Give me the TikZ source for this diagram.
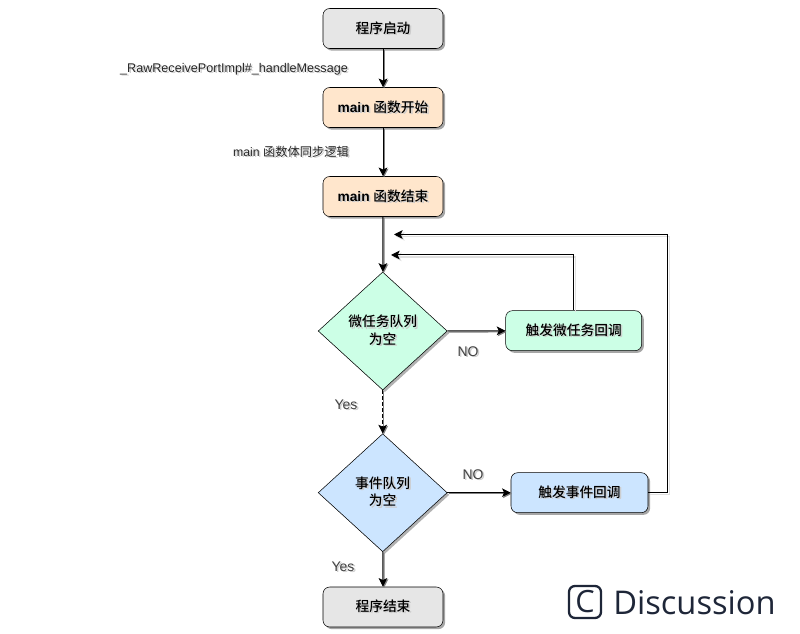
\documentclass[tikz,border=0pt]{standalone}
\usepackage{fontspec}
\setmainfont{Liberation Sans}
\newfontfamily\cjk{Noto Sans CJK SC}[BoldFont={Noto Sans CJK SC Medium}]
\newfontfamily\markfont{Open Sans}
\usepackage{tikz}
\usetikzlibrary{shapes,arrows.meta,shadows}
\usepackage{xcolor}
\definecolor{greyfill}{HTML}{E6E6E6}
\definecolor{mainfill}{HTML}{FFE6CC}
\definecolor{microfill}{HTML}{CCFFE6}
\definecolor{eventfill}{HTML}{CCE5FF}
\definecolor{markink}{HTML}{1E2638}
\newcommand{\softtext}[1]{\makebox[0pt][l]{\raisebox{-1pt}{\hspace{1.2pt}\textcolor{black!20}{#1}}}#1}

\begin{document}
\begin{tikzpicture}[x=0.75pt, y=-0.75pt,
    cell/.style={rectangle, draw, rounded corners=5pt, minimum width=90pt, minimum height=30pt, inner sep=0pt,
        font=\bfseries\fontsize{10.3}{12}\selectfont, drop shadow={shadow xshift=1.6pt, shadow yshift=-1.6pt, opacity=0.35, fill=black}},
    choice/.style={diamond, draw, minimum width=96.75pt, minimum height=88.5pt, inner sep=0pt, align=center,
        font=\bfseries\fontsize{10.3}{13}\selectfont, drop shadow={shadow xshift=1.6pt, shadow yshift=-1.6pt, opacity=0.3, fill=black}},
    arrow/.style={-{Stealth[length=6.5pt, width=6.5pt, inset=1.5pt]}, line width=0.75pt,
        preaction={draw=black!50, line width=0.9pt, transform canvas={shift={(0.8pt,-0.8pt)}}}},
    loopback/.style={-{Stealth[length=6.5pt, width=6.5pt, inset=1.5pt]}, line width=0.75pt,
        preaction={draw=black!12, line width=1pt, transform canvas={shift={(1.4pt,-1.4pt)}}}},
    note/.style={font=\fontsize{9.45}{11}\selectfont, text=black!85},
    branch/.style={font=\fontsize{10.5}{12}\selectfont, text=black!75}
]
\useasboundingbox (0,0) rectangle (800,634);

\node[cell, fill=greyfill] (boot) at (383,28.5) {\softtext{\cjk 程序启动}};
\node[cell, fill=mainfill] (mainstart) at (383,107.5) {\softtext{main {\cjk 函数开始}}};
\node[cell, fill=mainfill] (mainend) at (383,196.5) {\softtext{main {\cjk 函数结束}}};
\node[choice, fill=microfill] (microempty) at (382.7,331) {\softtext{\cjk 微任务队列}\\\softtext{\cjk 为空}};
\node[cell, fill=microfill, minimum width=102pt] (microrun) at (573.7,330.7) {\softtext{\cjk 触发微任务回调}};
\node[choice, fill=eventfill] (eventempty) at (382.7,492.7) {\softtext{\cjk 事件队列}\\\softtext{\cjk 为空}};
\node[cell, fill=eventfill, minimum width=102.75pt] (eventrun) at (579.5,492.7) {\softtext{\cjk 触发事件回调}};
\node[cell, fill=greyfill] (finish) at (383,607) {\softtext{\cjk 程序结束}};

\node[note] (portlabel) at (234,70) {\softtext{\_RawReceivePortImpl\#\_handleMessage}};
\node[note, font=\fontsize{9.2}{11}\selectfont] (synclabel) at (291,152.5) {\softtext{main {\cjk 函数体同步逻辑}}};
\node[branch] (nomicro) at (468,352) {\softtext{NO}};
\node[branch] (yesmicro) at (346,405.5) {\softtext{Yes}};
\node[branch] (noevent) at (473,475) {\softtext{NO}};
\node[branch] (yesevent) at (343,567.5) {\softtext{Yes}};

% free ends of the two loops, just beside the trunk
\coordinate (microback) at (391,255);
\coordinate (eventback) at (394,234.5);
\coordinate (eventcorner) at (667.7,492.7);

\draw[arrow] (boot) -- (mainstart);
\draw[arrow] (mainstart) -- (mainend);
\draw[arrow] (mainend) -- (microempty);
\draw[arrow, dashed, dash pattern=on 2.5pt off 2pt] (microempty) -- (eventempty);
\draw[arrow] (eventempty) -- (finish);
\draw[arrow] (microempty) -- (microrun);
\draw[arrow] (eventempty) -- (eventrun);
\draw[loopback] (microrun) |- (microback);
\draw[loopback] (eventrun) -- (eventcorner) |- (eventback);

% corner mark
\node[draw=markink, line width=1.7pt, rounded corners=4.5pt, minimum width=24pt, minimum height=24pt, inner sep=0pt,
    text=markink, font=\markfont\fontsize{23}{23}\selectfont] (markbox) at (585,602) {C};
\node[anchor=west, inner sep=0pt, text=markink, font=\markfont\fontsize{24.5}{28}\selectfont] (marktext) at (613,603) {Discussion};
\end{tikzpicture}
\end{document}
